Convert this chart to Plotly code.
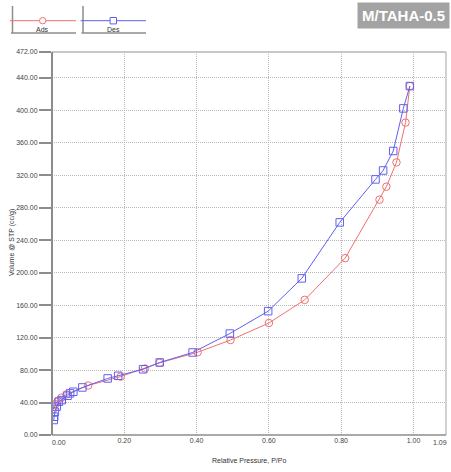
import plotly.graph_objects as go

# ---- data ----
ads_p = [0.004, 0.009, 0.016, 0.026, 0.040, 0.100, 0.190, 0.257, 0.298, 0.403,
         0.494, 0.600, 0.699, 0.811, 0.906, 0.925, 0.953, 0.978, 0.990]
ads_v = [32, 38, 42, 46, 50, 61, 72, 82, 89, 102,
         117, 138, 166.5, 218, 290, 306, 336, 385, 430]

des_p = [0.990, 0.972, 0.944, 0.916, 0.895, 0.796, 0.691, 0.598, 0.492, 0.389,
         0.298, 0.252, 0.183, 0.154, 0.084, 0.059, 0.050, 0.043, 0.027, 0.019,
         0.013, 0.008, 0.006, 0.005]
des_v = [430, 402.5, 350, 326, 315, 262, 193, 152.6, 125, 101.7,
         89.4, 81, 73, 69.7, 58.6, 53.3, 51.3, 48.4, 43, 41,
         35, 28.7, 22.5, 18.5]

x_ticks = [0.0, 0.2, 0.4, 0.6, 0.8, 1.0, 1.09]
y_ticks = [0, 40, 80, 120, 160, 200, 240, 280, 320, 360, 400, 440, 472]

series_names = ["Ads", "Des"]
sample_title = "M/TAHA-0.5"
x_title = "Relative Pressure, P/Po"
y_title = "Volume @ STP (cc/g)"

# ---- layout geometry (pixels) ----
FW, FH = 451, 472
L, R, T, B = 52, 5, 52, 37
W = FW - L - R
H = FH - T - B

def px(xp):
    return (xp - L) / W

def py(yp):
    return (T + H - yp) / H

FONT = "Arial, Liberation Sans, sans-serif"
RED = "#f07070"
BLUE = "#6060f0"
AXC = "#8c8c8c"
FRAME = "#b4b4b4"
GRID = "#b8b8b8"
TICKC = "#444"

fig = go.Figure()
fig.add_trace(go.Scatter(
    x=ads_p, y=ads_v, mode="lines+markers", name=series_names[0],
    line=dict(color=RED, width=1),
    marker=dict(symbol="circle-open", size=7.5, color=RED, line=dict(width=1)),
))
fig.add_trace(go.Scatter(
    x=des_p, y=des_v, mode="lines+markers", name=series_names[1],
    line=dict(color=BLUE, width=1),
    marker=dict(symbol="square-open", size=7.5, color=BLUE, line=dict(width=1)),
))

fig.update_layout(
    width=FW, height=FH,
    margin=dict(l=L, r=R, t=T, b=B, pad=0),
    paper_bgcolor="white", plot_bgcolor="white",
    showlegend=False,
    font=dict(family=FONT, size=7, color=TICKC),
)

# interior x labels via the axis, edge labels nudged inward as in the original
x_text = ["%.2f" % v for v in x_ticks]
x_axis_text = [""] + x_text[1:-1] + [""]
fig.update_xaxes(
    range=[0, 1.09], tickvals=x_ticks, ticktext=x_axis_text,
    showgrid=True, gridcolor=GRID, griddash="1px,1px", gridwidth=1,
    showline=False, ticks="", zeroline=False, automargin=False,
    ticklabeloverflow="allow",
    tickfont=dict(size=7, color=TICKC),
)
fig.update_yaxes(
    range=[0, 472], tickvals=y_ticks, tickformat=".2f",
    showgrid=True, gridcolor=GRID, griddash="1px,1px", gridwidth=1,
    showline=False,
    ticks="outside", ticklen=12, tickcolor=AXC, tickwidth=1.5,
    zeroline=False, automargin=False,
    tickfont=dict(size=7, color=TICKC),
)
for val, txt, shift in [(x_ticks[0], x_text[0], 7), (x_ticks[-1], x_text[-1], -6)]:
    fig.add_annotation(text=txt, xref="x", yref="paper", x=val, y=py(442),
                       xshift=shift, xanchor="center", yanchor="middle",
                       showarrow=False, font=dict(size=7, color=TICKC))

# frame: top and right light, left and bottom darker
fig.add_shape(type="line", xref="paper", yref="paper", x0=0, x1=1, y0=1, y1=1,
              line=dict(color=FRAME, width=1.5))
fig.add_shape(type="line", xref="paper", yref="paper", x0=1, x1=1, y0=0, y1=1,
              line=dict(color=FRAME, width=1.2))
fig.add_shape(type="line", xref="paper", yref="paper", x0=0, x1=1, y0=0, y1=0,
              line=dict(color=AXC, width=1.5))
fig.add_shape(type="line", xref="paper", yref="paper", x0=0, x1=0, y0=0, y1=1,
              line=dict(color=AXC, width=2))

# axis titles
fig.add_annotation(text=x_title, xref="paper", yref="paper",
                   x=px(249), y=py(460), xanchor="center", yanchor="middle",
                   showarrow=False, font=dict(size=7, color="#333"))
fig.add_annotation(text=y_title, xref="paper", yref="paper",
                   x=px(12), y=py(243), xanchor="center", yanchor="middle",
                   showarrow=False, textangle=-90,
                   font=dict(size=7, color="#333"))

# legend boxes
legend_items = [
    (series_names[0], RED, "circle", 12.5, 76, 42.7),
    (series_names[1], BLUE, "square", 83, 146, 113.3),
]
for name, col, kind, x0, x1, cx in legend_items:
    fig.add_shape(type="line", xref="paper", yref="paper",
                  x0=px(x0), x1=px(x0), y0=py(6), y1=py(33),
                  line=dict(color=AXC, width=1.5))
    fig.add_shape(type="line", xref="paper", yref="paper",
                  x0=px(x0 - 1.5), x1=px(x1), y0=py(33), y1=py(33),
                  line=dict(color=AXC, width=1.5))
    fig.add_shape(type="line", xref="paper", yref="paper",
                  x0=px(x0 - 2.5), x1=px(x1), y0=py(20.7), y1=py(20.7),
                  line=dict(color=col, width=1))
    fig.add_shape(type="circle" if kind == "circle" else "rect",
                  xref="paper", yref="paper",
                  x0=px(cx - 3.2), x1=px(cx + 3.2), y0=py(17.5), y1=py(23.9),
                  line=dict(color=col, width=1), fillcolor="white")
    fig.add_annotation(text=name, xref="paper", yref="paper",
                       x=px(cx), y=py(29), xanchor="center", yanchor="middle",
                       showarrow=False, font=dict(size=7, color="#333"))

# sample title box
fig.add_annotation(text="<b>" + sample_title + "</b>", xref="paper", yref="paper",
                   x=px(450), y=py(2), xanchor="right", yanchor="top",
                   showarrow=False, bgcolor="#a3a3a3", borderpad=4,
                   font=dict(size=15, color="white", family=FONT))

fig.write_html("out.html")
